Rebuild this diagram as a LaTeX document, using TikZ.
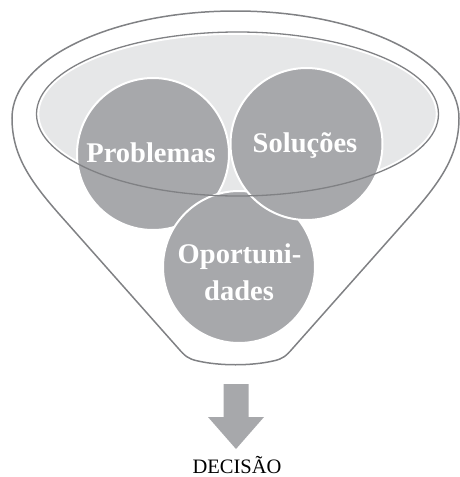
\documentclass[tikz,border=0pt]{standalone}
\usepackage{fontspec}
\setmainfont{Liberation Serif}
\definecolor{cgray}{HTML}{A7A8AB}
\definecolor{lgray}{HTML}{E6E7E8}
\definecolor{lnray}{HTML}{808184}
\tikzset{
  bubble/.style={circle, minimum size=152pt, inner sep=0pt, fill=cgray, draw=white, line width=2pt},
  btext/.style={text=white, font=\fontsize{28.5}{30}\selectfont\bfseries, anchor=base, inner sep=0pt},
  funnel/.style={draw=lnray, line width=1.5pt},
  ringline/.style={draw=lnray, line width=1.3pt},
}
\begin{document}
\begin{tikzpicture}[x=1pt,y=-1pt]
\useasboundingbox (0,0) rectangle (460,477);
% outer funnel
\draw[funnel] (12,118) arc[start angle=180, end angle=360, x radius=223.5, y radius=107]
  .. controls (459,155) and (441,181) .. (411,215) -- (293,348)
  .. controls (286,356) and (283,359) .. (273,361)
  .. controls (251,366) and (220,366) .. (198,361)
  .. controls (188,359) and (185,356) .. (178,348)
  -- (60,215) .. controls (30,181) and (12,155) .. (12,118) -- cycle;
% inner ellipse fill with white rim
\filldraw[fill=lgray, draw=white, line width=1.6pt] (237.5,114) ellipse [x radius=199, y radius=80];
% circles
\node[bubble] (prob) at (153,154) {};
\node[bubble] (oport) at (239,267) {};
\node[bubble] (sol) at (306.5,144) {};
% ellipse gray line on top
\draw[ringline] (237.5,114) ellipse [x radius=201, y radius=82];
% texts
\node[btext] (tprob) at (151,162) {Problemas};
\node[btext] (tsol) at (305,152) {Soluções};
\node[btext] (topo1) at (239.5,263) {Oportuni-};
\node[btext] (topo2) at (239,300) {dades};
% arrow
\coordinate (atop) at (236,384);
\fill[cgray] (223.5,384) -- (248.5,384) -- (248.5,417) -- (264,417) -- (236,449) -- (208,417) -- (223.5,417) -- cycle;
\node[anchor=base, inner sep=0pt, font=\fontsize{20.5}{22}\selectfont] (dec) at (237,473) {DECISÃO};
\end{tikzpicture}
\end{document}
